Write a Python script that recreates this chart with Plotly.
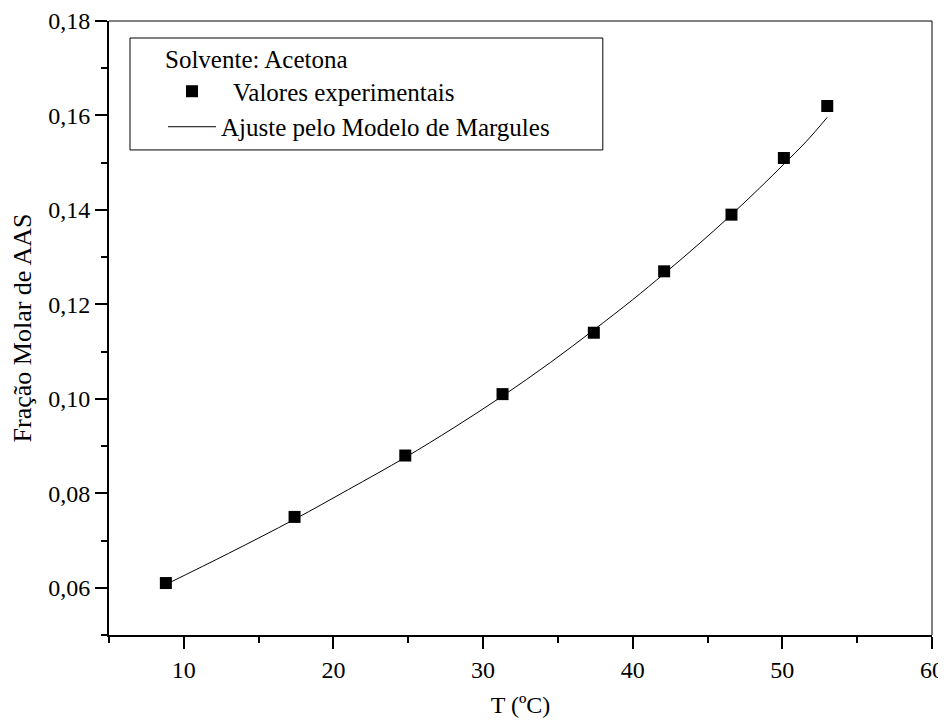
import plotly.graph_objects as go

# experimental points
temp_exp = [8.8, 17.4, 24.8, 31.3, 37.4, 42.1, 46.6, 50.1, 53.0]
frac_exp = [0.061, 0.075, 0.088, 0.101, 0.114, 0.127, 0.139, 0.151, 0.162]

# Margules fit curve
temp_fit = [8.8, 13.0, 17.4, 21.0, 24.8, 28.0, 31.3, 34.5, 37.4, 40.0, 42.1,
            44.5, 46.6, 48.5, 50.1, 51.6, 53.0]
frac_fit = [0.0607, 0.0673, 0.0745, 0.0808, 0.0876, 0.0938, 0.1006, 0.1077,
            0.1146, 0.1210, 0.1265, 0.1330, 0.1390, 0.1447, 0.1497, 0.1545, 0.1596]

x_ticks = [10, 20, 30, 40, 50, 60]
y_ticks = [0.06, 0.08, 0.10, 0.12, 0.14, 0.16, 0.18]

serif = "Liberation Serif"

fig = go.Figure()

fig.add_trace(go.Scatter(x=temp_exp, y=frac_exp,
                         name="  Valores experimentais",
                         mode="markers",
                         marker=dict(symbol="square", size=12, color="black")))

fig.add_trace(go.Scatter(x=temp_fit, y=frac_fit,
                         name="Ajuste pelo Modelo de Margules",
                         mode="lines",
                         line=dict(color="black", width=1, shape="spline")))

axis_common = dict(showgrid=False, zeroline=False, showline=True, automargin=False,
                   linecolor="black", linewidth=2, ticks="outside",
                   ticklen=12, tickwidth=2, tickcolor="black",
                   tickfont=dict(size=24, color="black", family=serif))

fig.update_xaxes(range=[5, 60], tickvals=x_ticks,
                 title=dict(text="T (ºC)", font=dict(size=24, color="black", family=serif),
                            standoff=14),
                 minor=dict(dtick=5, tick0=5, ticks="outside", ticklen=6,
                            tickwidth=2, tickcolor="black"),
                 **axis_common)
fig.update_yaxes(range=[0.05, 0.18], tickvals=y_ticks, tickformat=".2f",
                 title=dict(text="Fração Molar de AAS",
                            font=dict(size=26, color="black", family=serif),
                            standoff=14),
                 minor=dict(dtick=0.01, tick0=0.05, ticks="outside", ticklen=6,
                            tickwidth=2, tickcolor="black"),
                 **axis_common)

# thin top and right frame
fig.add_shape(type="line", xref="paper", yref="paper", x0=0, x1=1, y0=1, y1=1,
              line=dict(color="black", width=1))
fig.add_shape(type="line", xref="paper", yref="paper", x0=1, x1=1, y0=0, y1=1,
              line=dict(color="black", width=1))
# legend frame
fig.add_shape(type="rect", xref="paper", yref="paper",
              x0=0.0255, x1=0.600, y0=0.790, y1=0.9723,
              line=dict(color="black", width=1), fillcolor="rgba(0,0,0,0)")

fig.update_layout(
    width=946, height=721,
    margin=dict(l=101, r=22, t=13, b=94),
    separators=", ",
    plot_bgcolor="white", paper_bgcolor="white",
    font=dict(family=serif, color="black"),
    showlegend=True,
    legend=dict(x=0.0656, y=0.9756, xanchor="left", yanchor="top",
                bgcolor="rgba(0,0,0,0)", borderwidth=0,
                title=dict(text="Solvente: Acetona", font=dict(size=25, family=serif)),
                font=dict(size=25, family=serif),
                tracegroupgap=0, itemwidth=48),
)

fig.write_html("out.html")
